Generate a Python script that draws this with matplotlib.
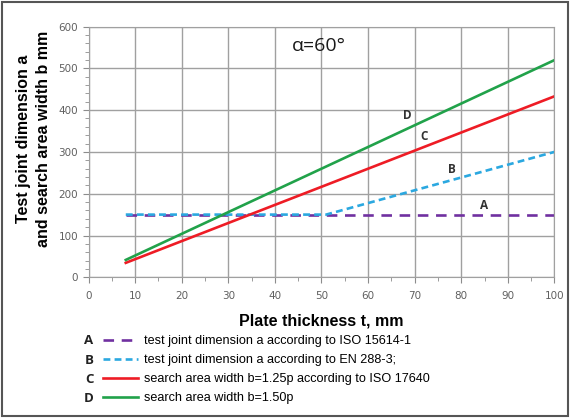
import matplotlib
matplotlib.use("Agg")
import matplotlib.pyplot as plt
from matplotlib.ticker import MultipleLocator
from matplotlib.patches import Rectangle

# Plate thickness t (mm) and the four curves
t_A = [8, 100]
a_iso15614 = [150, 150]

t_B = [8, 51, 100]
a_en288 = [150, 150, 300]

t_CD = [8, 100]
b_125p = [34.6, 433]
b_150p = [41.6, 519.6]

curve_letters = ["A", "B", "C", "D"]
curve_labels = [
    "test joint dimension a according to ISO 15614-1",
    "test joint dimension a according to EN 288-3;",
    "search area width b=1.25p according to ISO 17640",
    "search area width b=1.50p",
]
# where the letters sit next to the curves (t, value)
letter_pos_t = [85, 78, 72, 68.5]
letter_pos_v = [172, 257, 337, 387]

colors = ["#7030A0", "#2BA8E0", "#EE1C25", "#21A24A"]

fig = plt.figure(figsize=(5.71, 4.18), dpi=100)
ax = fig.add_axes([0.155, 0.3366, 0.816, 0.6])

lw = 1.9
lA, = ax.plot(t_A, a_iso15614, color=colors[0], lw=lw, dashes=(4.0, 2.9))
lB, = ax.plot(t_B, a_en288, color=colors[1], lw=lw, dashes=(2.6, 1.6))
lC, = ax.plot(t_CD, b_125p, color=colors[2], lw=lw)
lD, = ax.plot(t_CD, b_150p, color=colors[3], lw=lw)

ax.set_xlim(0, 100)
ax.set_ylim(0, 600)
ax.xaxis.set_major_locator(MultipleLocator(10))
ax.xaxis.set_minor_locator(MultipleLocator(5))
ax.yaxis.set_major_locator(MultipleLocator(100))
ax.yaxis.set_minor_locator(MultipleLocator(20))
ax.grid(True, which="major", color="#A0A0A0", lw=1.0)
ax.set_axisbelow(True)
for s in ax.spines.values():
    s.set_color("#A0A0A0")
ax.tick_params(which="both", direction="out", color="#8C8C8C", labelcolor="#606060",
               labelsize=7.5)
ax.tick_params(which="major", length=4)
ax.tick_params(which="minor", length=3)
ax.tick_params(axis="x", which="major", pad=6)

for letter, tx, vy in zip(curve_letters, letter_pos_t, letter_pos_v):
    ax.text(tx, vy, letter, fontsize=8.5, fontweight="bold", color="#333333",
            ha="center", va="center", family="Open Sans")

ax.text(49.5, 553, "\u03b1=60\u00b0", fontsize=14, ha="center", va="center",
        color="#1a1a1a", family="Open Sans", fontweight="medium")

ax.set_xlabel("Plate thickness t, mm", fontsize=11.5, fontweight="bold",
              family="Liberation Sans", labelpad=9)
ax.set_ylabel("Test joint dimension a\nand search area width b mm", fontsize=11.5,
              fontweight="bold", family="Liberation Sans", linespacing=1.42)
ax.yaxis.set_label_coords(-0.081, 0.551)

# legend underneath, letters placed to the left of each row
leg = fig.legend([lA, lB, lC, lD], curve_labels, loc="upper left",
                 bbox_to_anchor=(103 / 571, 1 - 335 / 418), frameon=False,
                 prop={"family": "Liberation Sans", "size": 9.1},
                 handlelength=2.8, handletextpad=0.45, labelspacing=0.56,
                 borderpad=0, borderaxespad=0)
row_y = [341, 360, 379.5, 398.5]
for letter, py in zip(curve_letters, row_y):
    fig.text(89 / 571, 1 - py / 418, letter, fontsize=9.5, fontweight="bold",
             family="Open Sans", color="#222222", ha="center", va="center")

fig.patches.append(Rectangle((0.004, 0.005), 0.99, 0.99, transform=fig.transFigure,
                             fill=False, edgecolor="#555555", lw=1.5))

fig.savefig("out.png", dpi=100)
